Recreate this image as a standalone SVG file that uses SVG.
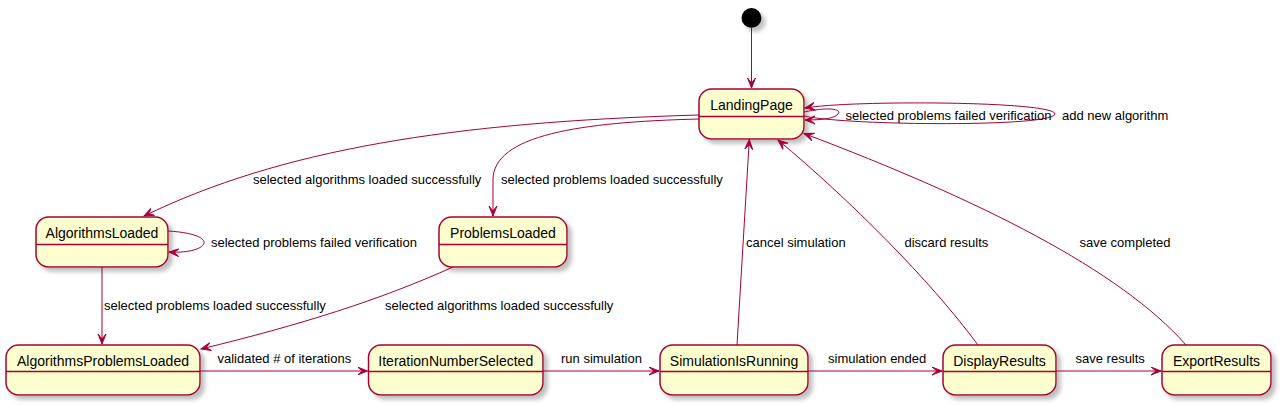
<svg xmlns="http://www.w3.org/2000/svg" width="1280" height="405" viewBox="0 0 1280 405">
<style>
.st rect{fill:#FEFECE;stroke:#A80036;stroke-width:1.5;filter:url(#sh)}
.st line{stroke:#A80036;stroke-width:1.5}
.st text{font-family:"Liberation Sans",Arial,sans-serif;font-size:14px;fill:#000;text-anchor:middle}
.cn path{fill:none;stroke:#A80036;stroke-width:1;marker-end:url(#arr)}
.lb{font-family:"Liberation Sans",Arial,sans-serif;font-size:13px;fill:#000}
</style>
<defs>
<filter id="sh" x="-20%" y="-20%" width="150%" height="160%">
<feGaussianBlur in="SourceAlpha" stdDeviation="2" result="b"/>
<feColorMatrix in="b" type="matrix" values="0 0 0 0 0.3 0 0 0 0 0.3 0 0 0 0 0.3 0 0 0 0.6 0" result="c"/>
<feOffset in="c" dx="4" dy="4" result="o"/>
<feMerge><feMergeNode in="o"/><feMergeNode in="SourceGraphic"/></feMerge>
</filter>
<marker id="arr" markerUnits="userSpaceOnUse" markerWidth="12" markerHeight="10" refX="10" refY="4.5" orient="auto">
<path d="M0,0.5 L10,4.5 L0,8.5 L5,4.5 Z" fill="#A80036" stroke="#A80036" stroke-width="1"/>
</marker>
</defs>
<rect width="1280" height="405" fill="#FFFFFF"/>

<g id="start"><circle cx="751.5" cy="18" r="10" fill="#000" filter="url(#sh)"/></g>

<g id="LandingPage" class="st"><rect x="699" y="89" width="105" height="50" rx="12.5"/><line x1="699" y1="116.5" x2="804" y2="116.5"/><text x="751.5" y="109.5">LandingPage</text></g>
<g id="AlgorithmsLoaded" class="st"><rect x="36" y="217" width="132" height="50" rx="12.5"/><line x1="36" y1="244.5" x2="168" y2="244.5"/><text x="102" y="237.5">AlgorithmsLoaded</text></g>
<g id="ProblemsLoaded" class="st"><rect x="439" y="217" width="128" height="50" rx="12.5"/><line x1="439" y1="244.5" x2="567" y2="244.5"/><text x="503" y="237.5">ProblemsLoaded</text></g>
<g id="AlgorithmsProblemsLoaded" class="st"><rect x="6" y="345" width="194" height="50" rx="12.5"/><line x1="6" y1="371.5" x2="200" y2="371.5"/><text x="103" y="365.5">AlgorithmsProblemsLoaded</text></g>
<g id="IterationNumberSelected" class="st"><rect x="368.5" y="345" width="174.5" height="50" rx="12.5"/><line x1="368.5" y1="371.5" x2="543" y2="371.5"/><text x="455.75" y="365.5">IterationNumberSelected</text></g>
<g id="SimulationIsRunning" class="st"><rect x="660" y="345" width="148" height="50" rx="12.5"/><line x1="660" y1="371.5" x2="808" y2="371.5"/><text x="734" y="365.5">SimulationIsRunning</text></g>
<g id="DisplayResults" class="st"><rect x="943" y="345" width="113" height="50" rx="12.5"/><line x1="943" y1="371.5" x2="1056" y2="371.5"/><text x="999.5" y="365.5">DisplayResults</text></g>
<g id="ExportResults" class="st"><rect x="1162" y="345" width="109" height="50" rx="12.5"/><line x1="1162" y1="371.5" x2="1271" y2="371.5"/><text x="1216.5" y="365.5">ExportResults</text></g>

<g id="connectors" class="cn">
<path d="M751.5,28 L751.5,88"/>
<path d="M804,112 C832,106 842,110 838,114 C834,119 820,120 805,120"/>
<path d="M804,116 C850,126 1055,127 1055,114 C1055,101 850,100 805,108"/>
<path d="M699,115 C450,122 280,150 144,216"/>
<path d="M699,119 C580,122 493,135 493,180 L493,216"/>
<path d="M168,231 C200,233 205,240 204,243 C202,250 185,253 169,252"/>
<path d="M102,267 L102,344"/>
<path d="M453,267 C380,300 300,325 201,349"/>
<path d="M200,371 L367.5,371"/>
<path d="M543,371 L659,371"/>
<path d="M808,371 L942,371"/>
<path d="M1056,371 L1161,371"/>
<path d="M737,345 L749.3,139.5"/>
<path d="M978,345 C930,280 850,200 778,140"/>
<path d="M1186,345 C1120,270 980,200 804,133.5"/>
</g>

<g id="labels">
<text class="lb" x="845.5" y="119.5">selected problems failed verification</text>
<text class="lb" x="1062" y="119.5">add new algorithm</text>
<text class="lb" x="253" y="184">selected algorithms loaded successfully</text>
<text class="lb" x="501" y="184">selected problems loaded successfully</text>
<text class="lb" x="211" y="247">selected problems failed verification</text>
<text class="lb" x="746" y="247">cancel simulation</text>
<text class="lb" x="904.5" y="247">discard results</text>
<text class="lb" x="1079.5" y="247">save completed</text>
<text class="lb" x="104" y="310">selected problems loaded successfully</text>
<text class="lb" x="385" y="310">selected algorithms loaded successfully</text>
<text class="lb" x="217.5" y="362.5">validated # of iterations</text>
<text class="lb" x="561" y="362.5">run simulation</text>
<text class="lb" x="828" y="362.5">simulation ended</text>
<text class="lb" x="1075.5" y="362.5">save results</text>
</g>
</svg>
